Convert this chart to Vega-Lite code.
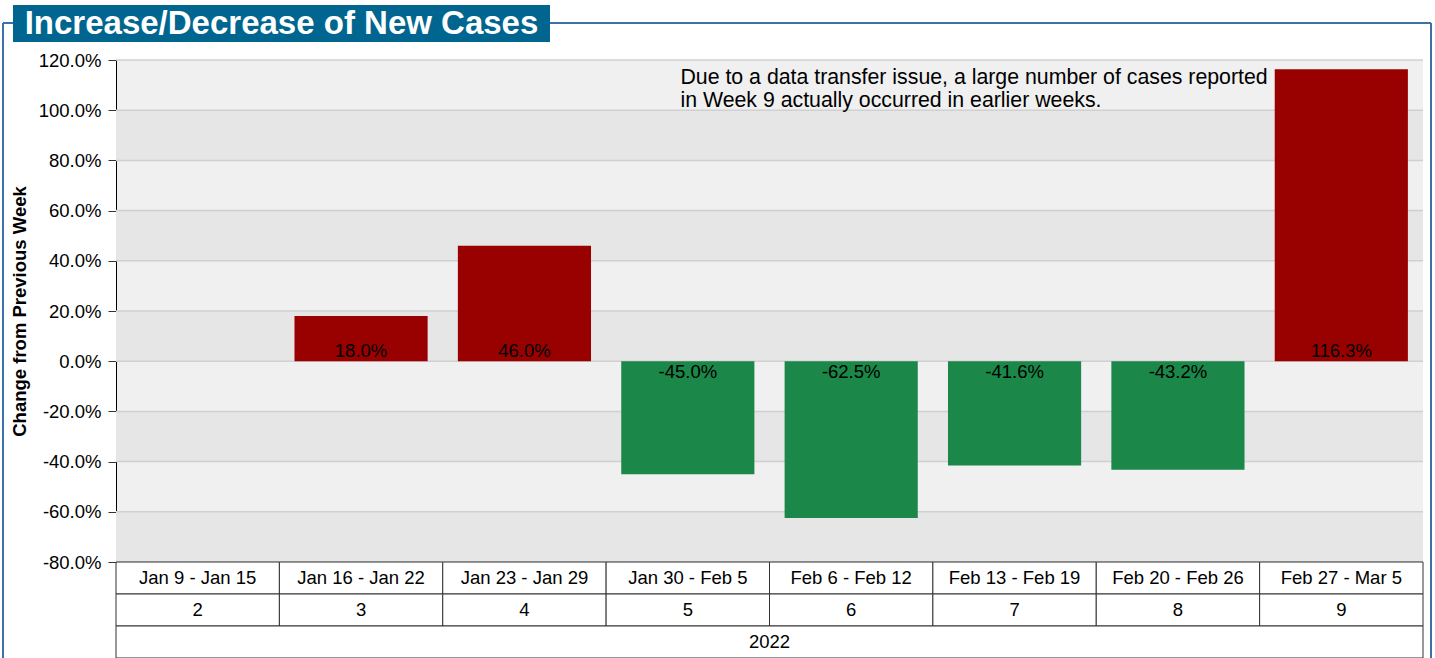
{
  "$schema": "https://vega.github.io/schema/vega-lite/v6.json",
  "autosize": {"type": "pad"},
  "padding": {"left": 2, "top": 5, "right": 0, "bottom": 0},
  "background": "white",
  "bounds": "flush",
  "spacing": 0,
  "config": {
    "font": "Liberation Sans",
    "view": {"stroke": null},
    "axis": {"labelFont": "Liberation Sans", "titleFont": "Liberation Sans"}
  },
  "datasets": {
    "weeks": [
      {"week": "2", "range": "Jan 9 - Jan 15", "change": null, "label": null},
      {"week": "3", "range": "Jan 16 - Jan 22", "change": 0.18, "label": "18.0%"},
      {"week": "4", "range": "Jan 23 - Jan 29", "change": 0.46, "label": "46.0%"},
      {"week": "5", "range": "Jan 30 - Feb 5", "change": -0.45, "label": "-45.0%"},
      {"week": "6", "range": "Feb 6 - Feb 12", "change": -0.625, "label": "-62.5%"},
      {"week": "7", "range": "Feb 13 - Feb 19", "change": -0.416, "label": "-41.6%"},
      {"week": "8", "range": "Feb 20 - Feb 26", "change": -0.432, "label": "-43.2%"},
      {"week": "9", "range": "Feb 27 - Mar 5", "change": 1.163, "label": "116.3%"}
    ],
    "bands": [
      {"lo": 0.8, "hi": 1.0},
      {"lo": 0.4, "hi": 0.6},
      {"lo": 0.0, "hi": 0.2},
      {"lo": -0.4, "hi": -0.2},
      {"lo": -0.8, "hi": -0.6}
    ],
    "grid": [
      {"v": -0.8}, {"v": -0.6}, {"v": -0.4}, {"v": -0.2}, {"v": 0.0},
      {"v": 0.2}, {"v": 0.4}, {"v": 0.6}, {"v": 0.8}, {"v": 1.0}, {"v": 1.2}
    ],
    "header": [{"title": "Increase/Decrease of New Cases"}],
    "note": [{"note": "Due to a data transfer issue, a large number of cases reported\n\u00a0in Week 9 actually occurred in earlier weeks."}],
    "year": [{"year": "2022"}]
  },
  "resolve": {"scale": {"x": "independent", "y": "independent"}},
  "vconcat": [
    {
      "width": 1307,
      "height": 502,
      "view": {"fill": "#f0f0f0", "stroke": null},
      "resolve": {"scale": {"x": "independent"}},
      "layer": [
        {
          "layer": [
            {
              "data": {"name": "bands"},
              "mark": {"type": "rect", "color": "#e6e6e6"},
              "encoding": {
                "y": {
                  "field": "lo", "type": "quantitative",
                  "title": "Change from Previous Week",
                  "scale": {"domain": [-0.8, 1.2], "nice": false, "zero": false},
                  "axis": {
                    "values": [-0.8, -0.6, -0.4, -0.2, 0, 0.2, 0.4, 0.6, 0.8, 1.0, 1.2],
                    "labelExpr": "replace(format(datum.value, '.1%'), '\u2212', '-')",
                    "labelFontSize": 18.5, "labelColor": "#000", "labelPadding": 7,
                    "tickSize": 8, "tickColor": "#333", "domainColor": "#000",
                    "grid": false, "titleFontSize": 18.5, "titleFontWeight": "bold",
                    "titleColor": "#000", "titlePadding": 9
                  }
                },
                "y2": {"field": "hi"}
              }
            },
            {
              "data": {"name": "grid"},
              "mark": {"type": "rule", "color": "#d0d0d0", "strokeWidth": 1.5},
              "encoding": {
                "y": {"field": "v", "type": "quantitative", "title": "Change from Previous Week"}
              }
            },
            {
              "data": {"name": "weeks"},
              "mark": {"type": "bar", "width": {"band": 0.815}},
              "encoding": {
                "x": {
                  "field": "range", "type": "nominal", "axis": null, "sort": null,
                  "scale": {
                    "domain": ["Jan 9 - Jan 15", "Jan 16 - Jan 22", "Jan 23 - Jan 29", "Jan 30 - Feb 5", "Feb 6 - Feb 12", "Feb 13 - Feb 19", "Feb 20 - Feb 26", "Feb 27 - Mar 5"],
                    "paddingInner": 0, "paddingOuter": 0
                  }
                },
                "y": {"field": "change", "type": "quantitative", "title": "Change from Previous Week"},
                "color": {
                  "condition": {"test": "datum.change >= 0", "value": "#990000"},
                  "value": "#1b8748"
                }
              }
            },
            {
              "data": {"name": "weeks"},
              "transform": [{"filter": "datum.change > 0"}],
              "mark": {"type": "text", "fontSize": 18.5, "color": "#000", "baseline": "alphabetic", "dy": -4},
              "encoding": {
                "x": {"field": "range", "type": "nominal", "axis": null},
                "y": {"datum": 0, "type": "quantitative"},
                "text": {"field": "label"}
              }
            },
            {
              "data": {"name": "weeks"},
              "transform": [{"filter": "datum.change < 0"}],
              "mark": {"type": "text", "fontSize": 18.5, "color": "#000", "baseline": "top", "dy": 2},
              "encoding": {
                "x": {"field": "range", "type": "nominal", "axis": null},
                "y": {"datum": 0, "type": "quantitative"},
                "text": {"field": "label"}
              }
            },
            {
              "data": {"name": "note"},
              "mark": {"type": "text", "fontSize": 21.3, "color": "#000", "align": "left", "baseline": "alphabetic", "lineBreak": "\n", "lineHeight": 23},
              "encoding": {
                "x": {"datum": "Jan 30 - Feb 5", "type": "nominal", "bandPosition": 0.455, "axis": null},
                "y": {"datum": 1.106, "type": "quantitative"},
                "text": {"field": "note"}
              }
            }
          ]
        },
        {
          "layer": [
            {
              "data": {"name": "header"},
              "mark": {"type": "rule", "color": "#3d6fa8", "strokeWidth": 2, "xOffset": -113, "x2Offset": 8, "yOffset": -37},
              "encoding": {
                "x": {"datum": 0, "type": "quantitative", "axis": null, "scale": {"domain": [0, 1], "nice": false, "zero": false}},
                "x2": {"datum": 1},
                "y": {"datum": 1.2, "type": "quantitative"}
              }
            },
            {
              "data": {"name": "header"},
              "mark": {"type": "rule", "color": "#3d6fa8", "strokeWidth": 2, "xOffset": -113, "yOffset": -37},
              "encoding": {
                "x": {"datum": 0, "type": "quantitative", "axis": null},
                "y": {"datum": 1.2, "type": "quantitative"},
                "y2": {"datum": -0.8}
              }
            },
            {
              "data": {"name": "header"},
              "mark": {"type": "rule", "color": "#3d6fa8", "strokeWidth": 2, "xOffset": 8, "yOffset": -37},
              "encoding": {
                "x": {"datum": 1, "type": "quantitative", "axis": null},
                "y": {"datum": 1.2, "type": "quantitative"},
                "y2": {"datum": -0.8}
              }
            },
            {
              "data": {"name": "header"},
              "mark": {"type": "rect", "color": "#00668f", "xOffset": -103, "x2Offset": 434, "yOffset": -55, "y2Offset": -18},
              "encoding": {
                "x": {"datum": 0, "type": "quantitative", "axis": null},
                "x2": {"datum": 0},
                "y": {"datum": 1.2, "type": "quantitative"},
                "y2": {"datum": 1.2}
              }
            },
            {
              "data": {"name": "header"},
              "mark": {"type": "text", "color": "white", "font": "Liberation Sans", "fontWeight": "bold", "fontSize": 33, "align": "center", "baseline": "middle", "xOffset": 165.5, "yOffset": -36.5},
              "encoding": {
                "x": {"datum": 0, "type": "quantitative", "axis": null},
                "y": {"datum": 1.2, "type": "quantitative"},
                "text": {"field": "title"}
              }
            }
          ]
        }
      ]
    },
    {
      "width": 1307,
      "height": 96,
      "layer": [
        {
          "data": {"name": "weeks"},
          "mark": {"type": "rect", "fill": "white", "stroke": "#333", "strokeWidth": 1},
          "encoding": {
            "x": {
              "field": "range", "type": "nominal", "axis": null, "sort": null,
              "scale": {
                "domain": ["Jan 9 - Jan 15", "Jan 16 - Jan 22", "Jan 23 - Jan 29", "Jan 30 - Feb 5", "Feb 6 - Feb 12", "Feb 13 - Feb 19", "Feb 20 - Feb 26", "Feb 27 - Mar 5"],
                "paddingInner": 0, "paddingOuter": 0
              }
            },
            "y": {
              "datum": "date", "type": "nominal", "axis": null,
              "scale": {"type": "band", "domain": ["date", "week", "year"], "paddingInner": 0, "paddingOuter": 0}
            }
          }
        },
        {
          "data": {"name": "weeks"},
          "mark": {"type": "rect", "fill": "white", "stroke": "#333", "strokeWidth": 1},
          "encoding": {
            "x": {"field": "range", "type": "nominal", "axis": null},
            "y": {"datum": "week", "type": "nominal", "axis": null}
          }
        },
        {
          "data": {"name": "year"},
          "mark": {"type": "rect", "fill": "white", "stroke": "#333", "strokeWidth": 1},
          "encoding": {
            "y": {"datum": "year", "type": "nominal", "axis": null}
          }
        },
        {
          "data": {"name": "weeks"},
          "mark": {"type": "text", "fontSize": 18.5, "color": "#000"},
          "encoding": {
            "x": {"field": "range", "type": "nominal", "axis": null},
            "y": {"datum": "date", "type": "nominal", "axis": null},
            "text": {"field": "range"}
          }
        },
        {
          "data": {"name": "weeks"},
          "mark": {"type": "text", "fontSize": 18.5, "color": "#000"},
          "encoding": {
            "x": {"field": "range", "type": "nominal", "axis": null},
            "y": {"datum": "week", "type": "nominal", "axis": null},
            "text": {"field": "week"}
          }
        },
        {
          "data": {"name": "year"},
          "mark": {"type": "text", "fontSize": 18.5, "color": "#000"},
          "encoding": {
            "y": {"datum": "year", "type": "nominal", "axis": null},
            "text": {"field": "year"}
          }
        },
        {
          "data": {"name": "year"},
          "mark": {"type": "rule", "color": "#3d6fa8", "strokeWidth": 2, "xOffset": -113},
          "encoding": {"x": {"datum": "Jan 9 - Jan 15", "type": "nominal", "bandPosition": 0, "axis": null}}
        },
        {
          "data": {"name": "year"},
          "mark": {"type": "rule", "color": "#3d6fa8", "strokeWidth": 2, "xOffset": 8},
          "encoding": {"x": {"datum": "Feb 27 - Mar 5", "type": "nominal", "bandPosition": 1, "axis": null}}
        }
      ]
    }
  ]
}
